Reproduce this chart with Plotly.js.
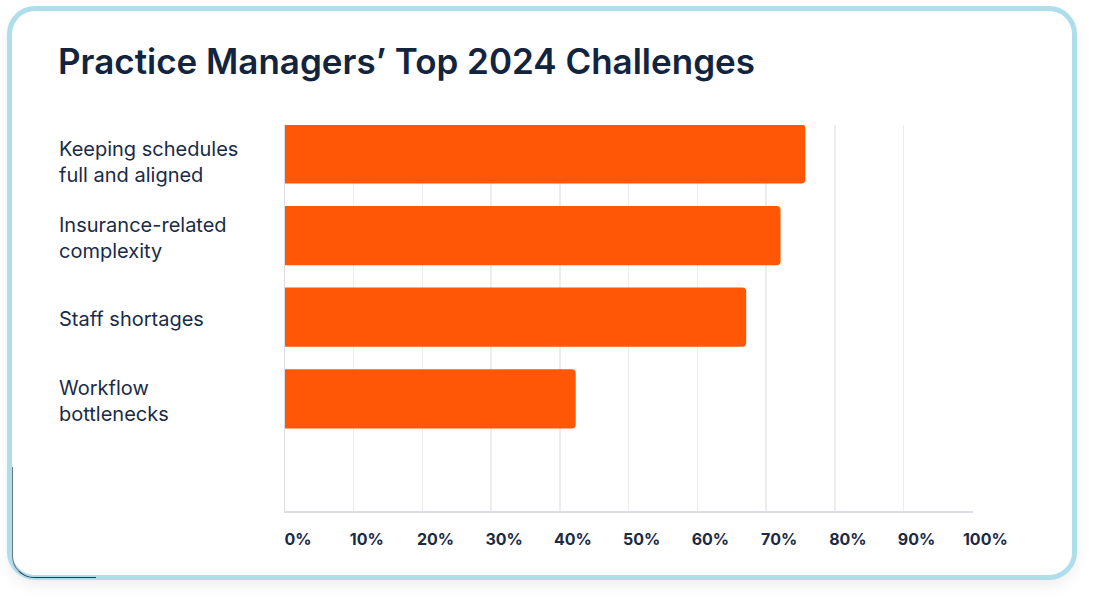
<!DOCTYPE html>
<html><head><meta charset="utf-8">
<title>Practice Managers’ Top 2024 Challenges</title>
<script src="https://cdn.plot.ly/plotly-3.0.1.min.js"></script>
<style>
* { box-sizing: border-box; }
body { margin: 0; width: 1100px; height: 604px; background: #fff; position: relative; overflow: hidden; }
.card { position: absolute; left: 7px; top: 6px; width: 1070px; height: 574px; border: 5px solid #addeea; border-radius: 28px; background: #fff; box-shadow: 0 7px 14px rgba(0,0,0,0.06); }
.ghost { position: absolute; left: 12px; top: 467px; width: 84px; height: 111px; border-left: 1.5px solid #6b7489; border-bottom: 1px solid #2b3550; border-bottom-left-radius: 22px; }
#chart { position: absolute; left: 0; top: 0; width: 1100px; height: 604px; }
</style></head><body>
<div class="card"></div>
<div class="ghost"></div>
<div id="chart"></div>
<script>
// survey results, share of practice managers (%)
const challenges = ['Keeping schedules<br>full and aligned', 'Insurance-related<br>complexity', 'Staff shortages', 'Workflow<br>bottlenecks'];
const shares = [75.7, 72.1, 67.1, 42.3];
const tickValues = [0, 10, 20, 30, 40, 50, 60, 70, 80, 90, 100];
const tickLabels = tickValues.map(v => v + '%');

const navy = '#13243f';
const cats = challenges.map((c, i) => 'c' + i);

const labels = challenges.map((c, i) => ({
    xref: 'paper', yref: 'y', x: -0.3314, y: cats[i],
    xanchor: 'left', yanchor: 'middle', align: 'left', yshift: i === 0 ? -8 : -2,
    text: c, showarrow: false,
    font: { family: 'Inter, sans-serif', size: 20, color: '#1a2b47' },
}));

Plotly.newPlot('chart', [{
    type: 'bar', orientation: 'h',
    y: cats, x: shares,
    width: 0.726,
    marker: { color: '#ff5705', cornerradius: 4 },
    hoverinfo: 'skip',
}], {
    width: 1100, height: 604,
    margin: { l: 285, r: 127, t: 125, b: 93 },
    paper_bgcolor: 'rgba(0,0,0,0)', plot_bgcolor: 'rgba(0,0,0,0)',
    showlegend: false,
    title: {
        text: 'Practice Managers’ Top 2024 Challenges',
        xref: 'container', yref: 'container', x: 58 / 1100, y: 1 - 62 / 604,
        xanchor: 'left', yanchor: 'middle',
        font: { family: 'Inter, sans-serif', size: 35, weight: 600, color: navy },
    },
    xaxis: {
        range: [0, 100.1], tickvals: tickValues, ticktext: tickLabels,
        showgrid: true, gridcolor: '#ededed', gridwidth: 1.5, zeroline: false,
        showline: true, linecolor: '#dcdde3', linewidth: 1.5,
        ticks: '', ticklabelstandoff: 13, ticklabelshift: 13,
        tickfont: { family: 'Inter, sans-serif', size: 16, weight: 700, color: '#1b2a45' },
        fixedrange: true,
    },
    yaxis: {
        type: 'category', categoryorder: 'array', categoryarray: cats,
        range: [4.373, -0.354],
        showticklabels: false, showgrid: false, zeroline: false,
        showline: true, linecolor: '#dcdde3', linewidth: 1.5, ticks: '',
        fixedrange: true,
    },
    annotations: labels,
}, { displayModeBar: false, staticPlot: true });
</script>
</body></html>
